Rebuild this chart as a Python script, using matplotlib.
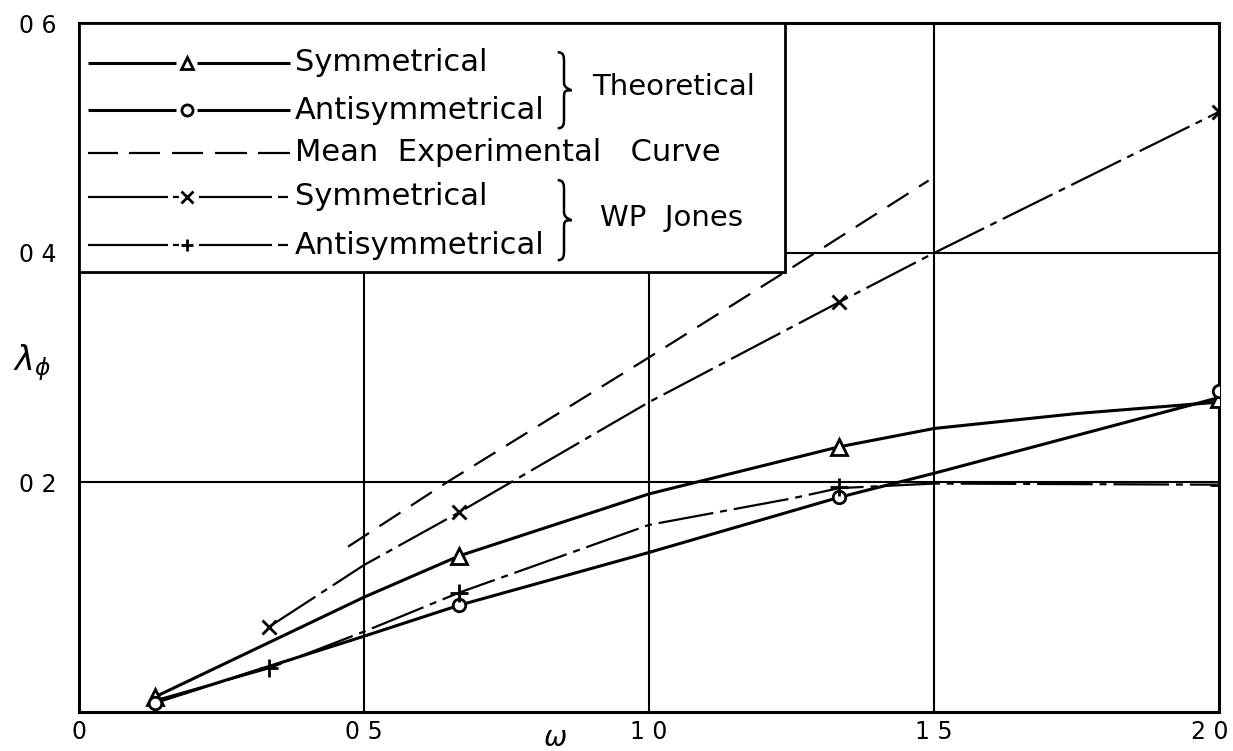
import matplotlib
matplotlib.use("Agg")
import matplotlib.pyplot as plt
from matplotlib.patches import Rectangle, PathPatch
from matplotlib.path import Path
from matplotlib.transforms import ScaledTranslation

# theoretical curves (symmetrical = triangles, antisymmetrical = circles)
omega_theo = [0.133, 0.5, 0.667, 1.0, 1.333, 1.5, 1.75, 2.0]
sym_theo = [0.013, 0.100, 0.136, 0.190, 0.231, 0.247, 0.260, 0.270]
anti_theo = [0.008, 0.066, 0.093, 0.139, 0.187, 0.208, 0.241, 0.274]

omega_marks = [0.133, 0.667, 1.333, 2.0]
sym_marks = [0.013, 0.136, 0.231, 0.273]
anti_marks = [0.008, 0.093, 0.187, 0.280]

# W P Jones curves
omega_jsym = [0.333, 0.5, 0.667, 1.0, 1.333, 1.5, 2.0]
jsym = [0.074, 0.128, 0.174, 0.270, 0.357, 0.400, 0.523]
omega_jsym_marks = [0.333, 0.667, 1.333, 2.0]
jsym_marks = [0.074, 0.174, 0.357, 0.523]

omega_janti = [0.133, 0.333, 0.5, 0.667, 1.0, 1.25, 1.333, 1.5, 2.0]
janti = [0.010, 0.038, 0.070, 0.104, 0.163, 0.186, 0.195, 0.199, 0.198]
omega_janti_marks = [0.333, 0.667, 1.333, 2.0]
janti_marks = [0.038, 0.104, 0.196, 0.198]

# mean experimental curve
omega_exp = [0.472, 0.645, 1.0, 1.25, 1.49]
mean_exp = [0.144, 0.200, 0.309, 0.387, 0.463]

xticks = [0, 0.5, 1.0, 1.5, 2.0]
xticklabels = ["0", "0 5", "1 0", "1 5", "2 0"]
yticks = [0.2, 0.4, 0.6]
yticklabels = ["0 2", "0 4", "0 6"]

plt.rcParams["lines.scale_dashes"] = False
plt.rcParams["font.family"] = "DejaVu Sans"

fig = plt.figure(figsize=(12.33, 7.51), dpi=100)
ax = fig.add_axes([0.064, 0.052, 0.925, 0.917])
ax.set_xlim(0, 2.0)
ax.set_ylim(0, 0.6)

for g in [0.5, 1.0, 1.5]:
    ax.axvline(g, color="black", lw=1.5, zorder=1)
for g in [0.2, 0.4]:
    ax.axhline(g, color="black", lw=1.5, zorder=1)

for s in ax.spines.values():
    s.set_linewidth(2.2)

ax.set_xticks(xticks)
ax.set_xticklabels(xticklabels, fontsize=17)
ax.set_yticks(yticks)
ax.set_yticklabels(yticklabels, fontsize=17)
ax.tick_params(axis="x", length=0, pad=6)
ax.tick_params(axis="y", length=0, pad=16)
last = ax.get_xticklabels()[-1]
last.set_transform(last.get_transform() + ScaledTranslation(-0.1, 0, fig.dpi_scale_trans))

dash_dot = (0, (40, 5, 5, 5))
dashed = (0, (18, 9))

ax.plot(omega_theo, sym_theo, color="black", lw=2.2, zorder=3)
ax.plot(omega_theo, anti_theo, color="black", lw=2.2, zorder=3)
ax.plot(omega_jsym, jsym, color="black", lw=1.6, ls=dash_dot, zorder=3)
ax.plot(omega_janti, janti, color="black", lw=1.6, ls=dash_dot, zorder=3)
ax.plot(omega_exp, mean_exp, color="black", lw=1.6, ls=dashed, zorder=3)

mk = dict(color="black", ls="none", zorder=4)
ax.plot(omega_marks, sym_marks, marker="^", ms=12, mfc="white", mew=2, **mk)
ax.plot(omega_marks, anti_marks, marker="o", ms=9, mfc="white", mew=2, **mk)
ax.plot(omega_jsym_marks, jsym_marks, marker="x", ms=10, mew=2, **mk)
ax.plot(omega_janti_marks, janti_marks, marker="+", ms=13, mew=2, **mk)

T = ax.transAxes
ax.text(0.417, -0.038, r"$\omega$", transform=T, fontsize=20, ha="center", va="center")
ax.text(-0.041, 0.508, r"$\lambda_{\phi}$", transform=T, fontsize=24, ha="center", va="center")

# legend drawn as a box in the top left corner
ax.add_patch(Rectangle((0, 0.639), 0.619, 0.361, transform=T, facecolor="white",
                       edgecolor="black", lw=2, zorder=5))


def px(x):
    return (x - 79) / 1141.0


rows = [0.943, 0.874, 0.812, 0.748, 0.678]
solid_segs = [(88, 176), (197, 290)]
dashed_segs = [(88, 118), (129, 160), (172, 203), (215, 247), (258, 290)]
dd_segs = [(88, 168), (173, 179), (199, 272), (278, 288)]
samples = [(solid_segs, 2.2, "^"), (solid_segs, 2.2, "o"), (dashed_segs, 1.6, None),
           (dd_segs, 1.6, "x"), (dd_segs, 1.6, "+")]
labels = ["Symmetrical", "Antisymmetrical", "Mean  Experimental   Curve",
          "Symmetrical", "Antisymmetrical"]
for yr, (segs, lw, m), lab in zip(rows, samples, labels):
    for a, b in segs:
        ax.plot([px(a), px(b)], [yr, yr], transform=T, color="black", lw=lw,
                zorder=6, solid_capstyle="butt")
    if m is not None:
        ax.plot([px(187)], [yr], transform=T, color="black", marker=m, ms=8,
                mfc="white", mew=2, zorder=7, ls="none")
    ax.text(px(295), yr, lab, transform=T, fontsize=22, va="center", ha="left", zorder=7)


def brace(x0, ymid, w, h):
    yt, yb = ymid + h / 2, ymid - h / 2
    xm = x0 + w * 0.45
    verts = [(x0, yt), (xm, yt), (xm, yt - 0.06 * h), (xm, yt - 0.13 * h),
             (xm, ymid + 0.1 * h),
             (xm, ymid + 0.02 * h), (x0 + w, ymid), (x0 + w, ymid),
             (xm, ymid), (xm, ymid - 0.02 * h), (xm, ymid - 0.1 * h),
             (xm, yb + 0.13 * h),
             (xm, yb + 0.06 * h), (xm, yb), (x0, yb)]
    codes = [Path.MOVETO, Path.CURVE4, Path.CURVE4, Path.CURVE4,
             Path.LINETO,
             Path.CURVE4, Path.CURVE4, Path.CURVE4,
             Path.CURVE4, Path.CURVE4, Path.CURVE4,
             Path.LINETO,
             Path.CURVE4, Path.CURVE4, Path.CURVE4]
    ax.add_patch(PathPatch(Path(verts, codes), transform=T, fill=False,
                           edgecolor="black", lw=1.8, zorder=7))


brace(px(558), (712 - 90) / 689.0, 14 / 1141.0, 76 / 689.0)
brace(px(558), (712 - 220) / 689.0, 14 / 1141.0, 80 / 689.0)
ax.text(px(592), (712 - 87) / 689.0, "Theoretical", transform=T, fontsize=21,
        va="center", zorder=7)
ax.text(px(600), (712 - 218) / 689.0, "WP  Jones", transform=T, fontsize=21,
        va="center", zorder=7)

plt.savefig("out.png", dpi=100)
